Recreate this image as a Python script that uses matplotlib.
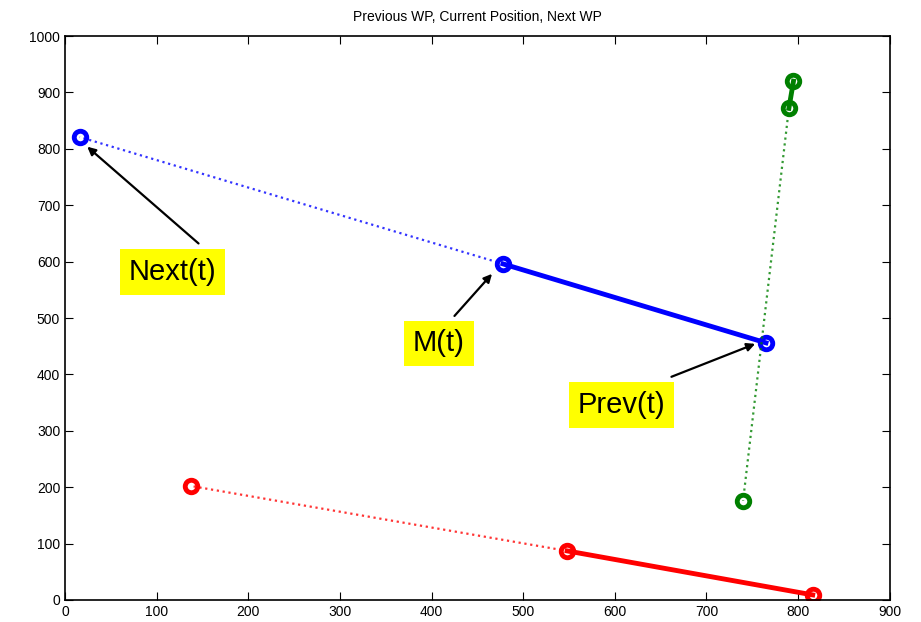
import matplotlib
matplotlib.use("Agg")
import matplotlib.pyplot as plt

# waypoint tracks: previous WP, current position, next WP
blue_x = [765, 478, 16]
blue_y = [456, 596, 821]
red_x = [816, 548, 138]
red_y = [9, 87, 202]
green_x = [795, 790, 740]
green_y = [920, 872, 176]

tracks = [(blue_x, blue_y, 'blue'), (red_x, red_y, 'red'), (green_x, green_y, 'green')]

labels = ['Next(t)', 'M(t)', 'Prev(t)']
label_xy = [(117, 582), (408, 455), (607, 346)]
arrow_tail = [(148, 629), (423, 500), (659, 394)]
arrow_head = [(22, 807), (468, 582), (756, 456)]

plt.rcParams['font.family'] = ['Liberation Sans', 'DejaVu Sans']

fig = plt.figure(figsize=(9.21, 6.22), dpi=100)
ax = fig.add_axes([0.0706, 0.0354, 0.8954, 0.9066])

for xs, ys, c in tracks:
    # solid: previous -> current, dotted: current -> next
    ax.plot(xs[:2], ys[:2], '-', color=c, lw=3.5)
    ax.plot(xs[1:], ys[1:], ':', color=c, lw=1.6, alpha=0.8)
    ax.plot(xs, ys, 'o', color=c, mfc='none', ms=9, mew=3.5)

for txt, (tx, ty), (ax0, ay0), (hx, hy) in zip(labels, label_xy, arrow_tail, arrow_head):
    ax.annotate('', xy=(hx, hy), xytext=(ax0, ay0),
                arrowprops=dict(arrowstyle='-|>', color='black', lw=1.6, mutation_scale=12))
    ax.text(tx, ty, txt, fontsize=21, ha='center', va='center',
            bbox=dict(boxstyle='square,pad=0.3', fc='#ffff00', ec='none'))

ax.set_xlim(0, 900)
ax.set_ylim(0, 1000)
ax.set_xticks(range(0, 901, 100))
ax.set_yticks(range(0, 1001, 100))
ax.tick_params(direction='in', top=True, right=True, length=6, labelsize=10)
for s in ax.spines.values():
    s.set_linewidth(1.2)
ax.set_title('Previous WP, Current Position, Next WP', fontsize=10, pad=11)

fig.savefig('out.png', dpi=100)
